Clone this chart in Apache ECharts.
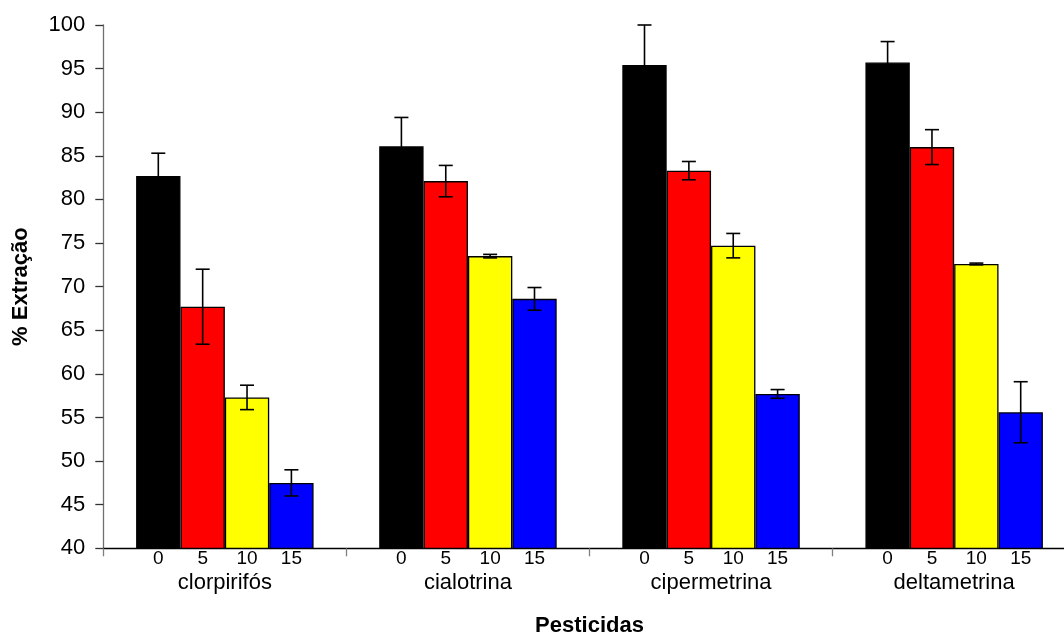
<!DOCTYPE html>
<html>
<head>
<meta charset="utf-8">
<script src="https://cdn.jsdelivr.net/npm/echarts@6/dist/echarts.min.js"></script>
<style>
  html, body { margin: 0; padding: 0; background: #fff; }
  #chart { width: 1064px; height: 635px; }
</style>
</head>
<body>
<div id="chart"></div>
<script>
// Pesticides and spike levels (doses) per group
const pesticidas = ['clorpirifós', 'cialotrina', 'cipermetrina', 'deltametrina'];
const doses = ['0', '5', '10', '15'];

// Mean extraction (%) per dose, one value per pesticide
const extracao0 = [82.7, 86.1, 95.4, 95.7];
const extracao5 = [67.7, 82.1, 83.3, 86.0];
const extracao10 = [57.3, 73.5, 74.7, 72.6];
const extracao15 = [47.5, 68.6, 57.7, 55.6];

// Standard deviations for the error bars
const desvio0 = [2.6, 3.3, 4.6, 2.4];
const desvio5 = [4.3, 1.8, 1.05, 2.0];
const desvio10 = [1.4, 0.2, 1.4, 0.1];
const desvio15 = [1.5, 1.3, 0.5, 3.5];

// Y axis ticks
const yMin = 40, yMax = 100, yStep = 5;

const medias = [extracao0, extracao5, extracao10, extracao15];
const desvios = [desvio0, desvio5, desvio10, desvio15];
const cores = ['#000000', '#ff0000', '#ffff00', '#0000ff'];

const FONT = '"Liberation Sans", Arial, sans-serif';
const CATEGORY_GAP = 0.27;

const barSeries = doses.map((d, i) => ({
  name: d,
  type: 'bar',
  data: medias[i],
  barGap: '0%',
  barCategoryGap: (CATEGORY_GAP * 100) + '%',
  itemStyle: { color: cores[i], borderColor: '#000', borderWidth: 1.3 },
  label: {
    show: true,
    position: 'bottom',
    distance: 0,
    formatter: p => p.seriesName,
    color: '#000',
    fontFamily: FONT,
    fontSize: 19
  },
  emphasis: { disabled: true },
  z: 2
}));

const errData = [];
medias.forEach((serie, s) => {
  serie.forEach((v, g) => errData.push([g, s, v, desvios[s][g]]));
});

const errorSeries = {
  type: 'custom',
  data: errData,
  encode: { x: 0, y: 2 },
  z: 5,
  silent: true,
  renderItem: function (params, api) {
    const g = api.value(0);
    const s = api.value(1);
    const m = api.value(2);
    const e = api.value(3);
    const catW = api.size([1, 0])[0];
    const barW = catW * (1 - CATEGORY_GAP) / doses.length;
    const cx = api.coord([g, m])[0] + (s - (doses.length - 1) / 2) * barW;
    const yTop = api.coord([g, m + e])[1];
    const yBot = api.coord([g, m - e])[1];
    const cap = 7;
    const st = { stroke: '#000', lineWidth: 1.6 };
    return {
      type: 'group',
      children: [
        { type: 'line', shape: { x1: cx, y1: yTop, x2: cx, y2: yBot }, style: st },
        { type: 'line', shape: { x1: cx - cap, y1: yTop, x2: cx + cap, y2: yTop }, style: st },
        { type: 'line', shape: { x1: cx - cap, y1: yBot, x2: cx + cap, y2: yBot }, style: st }
      ]
    };
  }
};

const chart = echarts.init(document.getElementById('chart'));
chart.setOption({
  animation: false,
  backgroundColor: '#ffffff',
  grid: {
    left: 103.3, right: -11.7, top: 25, bottom: 86.7,
    containLabel: false,
    outerBoundsMode: 'none'
  },
  xAxis: {
    type: 'category',
    data: pesticidas,
    name: 'Pesticidas',
    nameLocation: 'middle',
    nameGap: 67,
    nameTextStyle: { fontFamily: FONT, fontSize: 22, fontWeight: 'bold', color: '#000' },
    axisLine: { show: true, lineStyle: { color: '#000', width: 1.3 } },
    axisTick: { show: true, length: 8, lineStyle: { color: '#808080', width: 1.3 } },
    axisLabel: { margin: 24, fontFamily: FONT, fontSize: 22, color: '#000' },
    splitLine: { show: false }
  },
  yAxis: {
    type: 'value',
    min: yMin,
    max: yMax,
    interval: yStep,
    name: '% Extração',
    nameLocation: 'middle',
    nameGap: 71,
    nameRotate: 90,
    nameTextStyle: { fontFamily: FONT, fontSize: 22, fontWeight: 'bold', color: '#000' },
    axisLine: { show: true, lineStyle: { color: '#707070', width: 1.3 } },
    axisTick: { show: true, length: 8, lineStyle: { color: '#333', width: 1.3 } },
    axisLabel: { margin: 18, fontFamily: FONT, fontSize: 22, color: '#000' },
    splitLine: { show: false }
  },
  series: [...barSeries, errorSeries]
});
</script>
</body>
</html>
